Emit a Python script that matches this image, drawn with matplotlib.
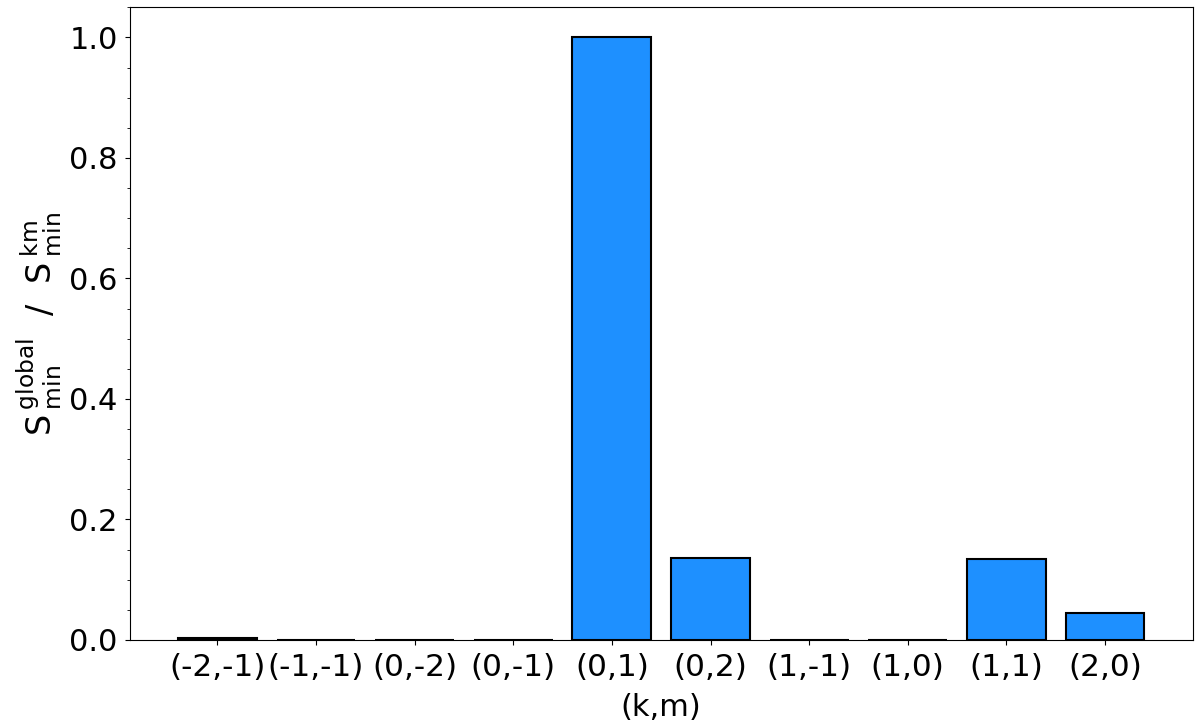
import numpy as np
import matplotlib
matplotlib.use('Agg')
import matplotlib.pyplot as plt
from matplotlib.ticker import AutoMinorLocator

# (k,m) modes and normalised minimum action ratio
labels = ['(-2,-1)', '(-1,-1)', '(0,-2)', '(0,-1)', '(0,1)',
          '(0,2)', '(1,-1)', '(1,0)', '(1,1)', '(2,0)']
ratio = [0.003, 0.0005, 0.0005, 0.0005, 1.0,
         0.136, 0.0005, 0.0005, 0.135, 0.045]

fig, ax = plt.subplots(figsize=(12, 7.28), dpi=100)
fig.subplots_adjust(left=0.108, right=0.994, top=0.99, bottom=0.121)

x = np.arange(len(labels))
ax.bar(x, ratio, width=0.8, color='#1E90FF', edgecolor='black', linewidth=1.5)

ax.set_xticks(x)
ax.set_xticklabels(labels, fontsize=22.5)
ax.tick_params(axis='x', pad=6)
ax.tick_params(axis='y', labelsize=22, pad=5)
ax.yaxis.set_minor_locator(AutoMinorLocator(4))
ax.set_xlabel('(k,m)', fontsize=22, labelpad=8)
ax.set_ylabel(r'$\mathrm{S}\,^{\rm global}_{\rm min}$  /  $\mathrm{S}\,^{\rm km}_{\rm min}$',
              fontsize=24, labelpad=4)

plt.savefig('out.png', dpi=100)
